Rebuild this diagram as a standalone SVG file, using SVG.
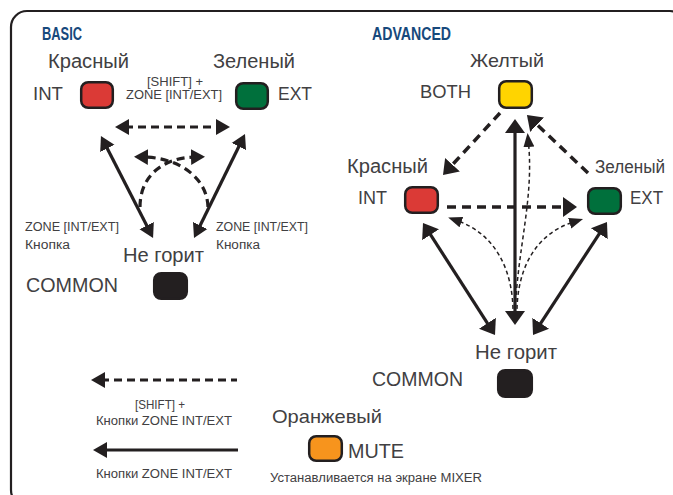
<svg xmlns="http://www.w3.org/2000/svg" width="673" height="495" viewBox="0 0 673 495">
<style>
.t{font-family:"Liberation Sans",Arial,sans-serif;fill:#414042}
.h{font-family:"Liberation Sans",Arial,sans-serif;font-weight:bold;fill:#17497c;font-size:18px}
.n{stroke:#231f20;stroke-width:2.5}
.s{fill:none;stroke:#231f20;stroke-width:3.2}
.d{fill:none;stroke:#231f20;stroke-width:3.2;stroke-dasharray:8 5}
.da{fill:none;stroke:#231f20;stroke-width:3.5;stroke-dasharray:9 6}
.th{fill:none;stroke:#231f20;stroke-width:1.5;stroke-dasharray:4 3}
</style>
<defs>
<marker id="hb" markerUnits="userSpaceOnUse" markerWidth="16" markerHeight="18" viewBox="0 0 16 18" refX="4" refY="9" orient="auto-start-reverse"><path d="M0,1 L14,9 L0,17 z" fill="#231f20"/></marker>
<marker id="ha" markerUnits="userSpaceOnUse" markerWidth="16" markerHeight="22" viewBox="0 0 16 22" refX="4" refY="11" orient="auto-start-reverse"><path d="M0,1 L14,11 L0,21 z" fill="#231f20"/></marker>
<marker id="ht" markerUnits="userSpaceOnUse" markerWidth="16" markerHeight="12" viewBox="0 0 16 12" refX="4" refY="6" orient="auto"><path d="M0,0.5 L14,6 L0,11.5 z" fill="#231f20"/></marker>
</defs>
<rect x="11" y="11" width="675" height="495" rx="16" fill="none" stroke="#231f20" stroke-width="2.2"/>
<text class="h" x="42" y="40" textLength="40" lengthAdjust="spacingAndGlyphs">BASIC</text>
<text class="h" x="372" y="40" textLength="79" lengthAdjust="spacingAndGlyphs">ADVANCED</text>

<g id="node-basic-int">
<rect class="n" x="81.2" y="82.2" width="31.6" height="25.6" rx="7" fill="#db3a36"/>
<text class="t" x="48" y="68" font-size="19.5" textLength="81" lengthAdjust="spacingAndGlyphs">Красный</text>
<text class="t" x="33" y="100" font-size="18" textLength="30" lengthAdjust="spacingAndGlyphs">INT</text>
</g>
<g id="node-basic-ext">
<rect class="n" x="236.2" y="83.2" width="31.6" height="25.6" rx="7" fill="#00703c"/>
<text class="t" x="213" y="68" font-size="19.5" textLength="82" lengthAdjust="spacingAndGlyphs">Зеленый</text>
<text class="t" x="278" y="100" font-size="18" textLength="34" lengthAdjust="spacingAndGlyphs">EXT</text>
</g>
<g id="node-basic-common">
<rect class="n" x="154.2" y="273.2" width="32.6" height="25.6" rx="7" fill="#231f20"/>
<text class="t" x="123" y="262" font-size="20" textLength="81" lengthAdjust="spacingAndGlyphs">Не горит</text>
<text class="t" x="26" y="292" font-size="20" textLength="92" lengthAdjust="spacingAndGlyphs">COMMON</text>
</g>

<g id="node-adv-both">
<rect class="n" x="499.2" y="81.2" width="32.6" height="26.6" rx="7" fill="#ffd400"/>
<text class="t" x="470" y="67" font-size="18.5" textLength="74" lengthAdjust="spacingAndGlyphs">Желтый</text>
<text class="t" x="420" y="98" font-size="18.5" textLength="51" lengthAdjust="spacingAndGlyphs">BOTH</text>
</g>
<g id="node-adv-int">
<rect class="n" x="405.2" y="187.2" width="32.6" height="25.6" rx="7" fill="#db3a36"/>
<text class="t" x="347" y="173" font-size="19.5" textLength="81" lengthAdjust="spacingAndGlyphs">Красный</text>
<text class="t" x="358" y="204" font-size="18" textLength="29" lengthAdjust="spacingAndGlyphs">INT</text>
</g>
<g id="node-adv-ext">
<rect class="n" x="588.2" y="188.2" width="32.6" height="25.6" rx="7" fill="#00703c"/>
<text class="t" x="595" y="173" font-size="18" textLength="70" lengthAdjust="spacingAndGlyphs">Зеленый</text>
<text class="t" x="630" y="204" font-size="18" textLength="33" lengthAdjust="spacingAndGlyphs">EXT</text>
</g>
<g id="node-adv-common">
<rect class="n" x="498.2" y="370.2" width="33.6" height="26.6" rx="7" fill="#231f20"/>
<text class="t" x="475" y="359" font-size="20" textLength="82" lengthAdjust="spacingAndGlyphs">Не горит</text>
<text class="t" x="372" y="386" font-size="20" textLength="91" lengthAdjust="spacingAndGlyphs">COMMON</text>
</g>
<g id="node-mute">
<rect class="n" x="309.2" y="436.2" width="32.6" height="24.6" rx="7" fill="#f7941d"/>
<text class="t" x="272" y="423" font-size="19" textLength="110" lengthAdjust="spacingAndGlyphs">Оранжевый</text>
<text class="t" x="348" y="458" font-size="20" textLength="56" lengthAdjust="spacingAndGlyphs">MUTE</text>
<text class="t" x="270" y="482" font-size="12" textLength="212" lengthAdjust="spacingAndGlyphs">Устанавливается на экране MIXER</text>
</g>

<g id="connectors">
<!-- basic -->
<line class="d" x1="125" y1="127" x2="220" y2="127" marker-start="url(#hb)" marker-end="url(#hb)"/>
<line class="s" x1="105.5" y1="144.9" x2="148.5" y2="229.1" marker-start="url(#hb)" marker-end="url(#hb)"/>
<line class="s" x1="240.6" y1="143" x2="198.4" y2="229" marker-start="url(#hb)" marker-end="url(#hb)"/>
<path class="d" d="M140,207 C140,178 160,158 195,157" stroke-dasharray="7 5" marker-end="url(#hb)"/>
<path class="d" d="M208,207 C207,178 180,158 144,157" stroke-dasharray="7 5" marker-end="url(#hb)"/>
<!-- advanced -->
<line class="da" x1="500" y1="113" x2="449.8" y2="167.6" marker-end="url(#ha)"/>
<line class="da" x1="588" y1="173" x2="534.2" y2="121.9" marker-end="url(#ha)"/>
<line class="da" x1="447" y1="207" x2="567" y2="207" marker-end="url(#ha)"/>
<line class="s" x1="515" y1="129" x2="515" y2="315" stroke-width="3.5" marker-start="url(#ha)" marker-end="url(#ha)"/>
<line class="s" x1="428.4" y1="231.4" x2="489.6" y2="326.6" stroke-width="3.5" marker-start="url(#ha)" marker-end="url(#ha)"/>
<line class="s" x1="601.5" y1="230.4" x2="538.5" y2="326.6" stroke-width="3.5" marker-start="url(#ha)" marker-end="url(#ha)"/>
<path class="th" d="M515,316 C517,250 534,200 528.5,143" marker-end="url(#ht)"/>
<path class="th" d="M513,316 C514,270 495,234 457.6,220.8" marker-end="url(#ht)"/>
<path class="th" d="M517,316 C516,270 535,234 573.5,222" marker-end="url(#ht)"/>
<!-- legend -->
<line class="d" x1="101" y1="380" x2="237" y2="380" marker-start="url(#hb)"/>
<line class="s" x1="103" y1="450" x2="238" y2="450" stroke-width="3.5" marker-start="url(#hb)"/>
</g>

<g id="labels">
<text class="t" x="147" y="86" font-size="12.5" textLength="56" lengthAdjust="spacingAndGlyphs">[SHIFT] +</text>
<text class="t" x="126" y="99" font-size="12.5" textLength="96" lengthAdjust="spacingAndGlyphs">ZONE [INT/EXT]</text>
<text class="t" x="25" y="231" font-size="12.5" textLength="94" lengthAdjust="spacingAndGlyphs">ZONE [INT/EXT]</text>
<text class="t" x="25" y="249" font-size="12.5" textLength="45" lengthAdjust="spacingAndGlyphs">Кнопка</text>
<text class="t" x="216" y="231" font-size="12.5" textLength="92" lengthAdjust="spacingAndGlyphs">ZONE [INT/EXT]</text>
<text class="t" x="216" y="249" font-size="12.5" textLength="44" lengthAdjust="spacingAndGlyphs">Кнопка</text>
<text class="t" x="135" y="409" font-size="12.5" textLength="50" lengthAdjust="spacingAndGlyphs">[SHIFT] +</text>
<text class="t" x="96" y="425" font-size="12.5" textLength="136" lengthAdjust="spacingAndGlyphs">Кнопки ZONE INT/EXT</text>
<text class="t" x="96" y="478" font-size="12.5" textLength="136" lengthAdjust="spacingAndGlyphs">Кнопки ZONE INT/EXT</text>
</g>
</svg>
